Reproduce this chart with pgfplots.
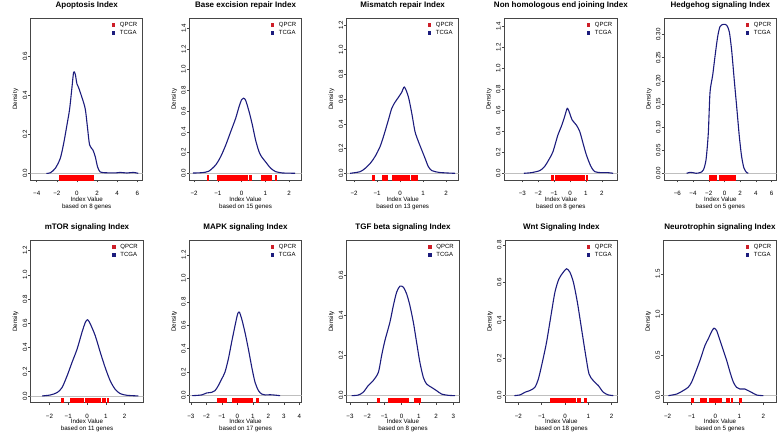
\documentclass[border=0pt]{standalone}
\usepackage{pgfplots}
\pgfplotsset{compat=1.18}
\usepackage{fontspec}
\setmainfont{Liberation Sans}
\definecolor{navyc}{RGB}{28,28,125}
\definecolor{rugred}{RGB}{255,0,0}
\definecolor{legred}{RGB}{205,30,40}
\definecolor{boxc}{RGB}{70,70,70}
\pgfplotsset{
  panel/.style={
    scale only axis,
    axis line style={boxc, line width=0.6pt},
    tick style={boxc, line width=0.5pt},
    tick align=outside, major tick length=2.5pt,
    xtick pos=bottom, ytick pos=left,
    tick label style={font=\fontsize{6.2}{7}\selectfont},
    yticklabel style={rotate=90, anchor=south, inner sep=0.8pt},
    title style={at={(axis description cs:0.5,1)}, anchor=center, yshift=7.3pt, font=\bfseries\fontsize{8}{9}\selectfont},
    xlabel style={at={(axis description cs:0.5,0)}, anchor=center, yshift=-23.5pt, align=center, font=\fontsize{6.2}{7.4}\selectfont},
    ylabel style={font=\fontsize{6.2}{7}\selectfont},
    ylabel={Density},
    legend style={at={(axis description cs:1,1)}, anchor=north east, xshift=-4.5pt, yshift=-3pt, draw=none, fill=none, inner sep=0pt, row sep=0.3pt, font=\fontsize{6}{6.5}\selectfont, nodes={inner sep=0.8pt}},
    legend cell align=left,
    clip=true,
  },
  curve/.style={navyc, line width=1.1pt, smooth, tension=0.45, forget plot},
  rug/.style={only marks, mark=square*, mark size=2.2pt, rugred, mark options={xscale=0.38, yshift=-4.4pt, draw=none, fill=rugred}, forget plot},
  zeroline/.style={black!25, line width=0.7pt, forget plot},
  toprow/.style={height=161.7pt, xticklabel style={yshift=-4.9pt}},
  botrow/.style={height=161.5pt, xticklabel style={yshift=-6.3pt}},
}
\newcommand{\mylegend}{%
\addlegendimage{legend image code/.code={\fill[legred, draw=none] (0pt,-1.9pt) rectangle (3.8pt,1.9pt);\path[draw=none, fill=none] (0pt,0pt) -- (7.5pt,0pt);}}
\addlegendentry{QPCR}
\addlegendimage{legend image code/.code={\fill[navyc, draw=none] (0pt,-1.9pt) rectangle (3.8pt,1.9pt);\path[draw=none, fill=none] (0pt,0pt) -- (7.5pt,0pt);}}
\addlegendentry{TCGA}}
\begin{document}
\begin{tikzpicture}
\useasboundingbox (0pt,0pt) rectangle (778pt,433pt);
% ---------- P1 Apoptosis
\begin{axis}[panel, toprow, at={(30.7pt,253pt)}, anchor=south west, width=112pt,
  xmin=-4.6, xmax=6.54, ymin=-0.034, ymax=0.797,
  xtick={-4,-2,0,2,4,6}, xticklabels={−4,−2,0,2,4,6},
  ytick={0,0.2,0.4,0.6}, yticklabels={0.0,0.2,0.4,0.6},
  title={Apoptosis Index}, xlabel={Index Value\\based on 8 genes}]
\addplot[zeroline] coordinates {(-10,0) (10,0)};
\addplot[curve] coordinates {(-3.05,0) (-2.65,0.003) (-2.15,0.026) (-1.66,0.077) (-1.32,0.154) (-0.99,0.25) (-0.73,0.33) (-0.5,0.44) (-0.33,0.52) (-0.17,0.51) (0,0.46) (0.17,0.44) (0.5,0.39) (0.83,0.33) (1.06,0.23) (1.26,0.146) (1.59,0.12) (1.82,0.086) (2.05,0.034) (2.32,0.007) (2.98,0.003) (3.97,0.003) (4.3,0.005) (4.97,0.002) (5.63,0.005) (6.1,0)};
\addplot[rug] coordinates {(-1.65,0) (-1.55,0) (-1.45,0) (-1.38,0) (-1.3,0) (-1.2,0) (-1.1,0) (-1.0,0) (-0.9,0) (-0.8,0) (-0.72,0) (-0.55,0) (-0.45,0) (-0.38,0) (-0.3,0) (-0.2,0) (-0.1,0) (0.0,0) (0.1,0) (0.2,0) (0.3,0) (0.4,0) (0.5,0) (0.6,0) (0.68,0) (0.78,0) (0.85,0) (1.05,0) (1.3,0) (1.4,0) (1.55,0)};
\mylegend
\end{axis}
% ---------- P2 Base excision
\begin{axis}[panel, toprow, at={(189.3pt,253pt)}, anchor=south west, width=112.4pt,
  xmin=-2.2, xmax=2.53, ymin=-0.065, ymax=1.496,
  xtick={-2,-1,0,1,2}, xticklabels={−2,−1,0,1,2},
  ytick={0,0.2,0.4,0.6,0.8,1.0,1.2,1.4}, yticklabels={0.0,0.2,0.4,0.6,0.8,1.0,1.2,1.4},
  title={Base excision repair Index}, xlabel={Index Value\\based on 15 genes}]
\addplot[zeroline] coordinates {(-10,0) (10,0)};
\addplot[curve] coordinates {(-2.05,0.002) (-1.66,0.006) (-1.38,0.02) (-1.09,0.08) (-0.88,0.16) (-0.67,0.27) (-0.46,0.40) (-0.25,0.53) (-0.11,0.64) (0,0.71) (0.08,0.725) (0.17,0.705) (0.31,0.6) (0.45,0.47) (0.59,0.32) (0.73,0.21) (0.84,0.16) (1.01,0.11) (1.22,0.05) (1.43,0.016) (1.71,0.003) (2.0,0.001) (2.25,0)};
\addplot[rug] coordinates {(-1.43,0) (-1.0,0) (-0.95,0) (-0.88,0) (-0.82,0) (-0.75,0) (-0.68,0) (-0.6,0) (-0.52,0) (-0.45,0) (-0.38,0) (-0.3,0) (-0.2,0) (-0.1,0) (0.0,0) (0.05,0) (0.1,0) (0.2,0) (0.35,0) (0.84,0) (0.92,0) (1.0,0) (1.1,0) (1.2,0) (1.43,0)};
\mylegend
\end{axis}
% ---------- P3 Mismatch repair
\begin{axis}[panel, toprow, at={(346.7pt,253pt)}, anchor=south west, width=112pt,
  xmin=-2.32, xmax=2.55, ymin=-0.054, ymax=1.254,
  xtick={-2,-1,0,1,2}, xticklabels={−2,−1,0,1,2},
  ytick={0,0.2,0.4,0.6,0.8,1.0,1.2}, yticklabels={0.0,0.2,0.4,0.6,0.8,1.0,1.2},
  title={Mismatch repair Index}, xlabel={Index Value\\based on 13 genes}]
\addplot[zeroline] coordinates {(-10,0) (10,0)};
\addplot[curve] coordinates {(-2.17,0) (-1.74,0.013) (-1.52,0.04) (-1.3,0.08) (-1.09,0.135) (-0.87,0.216) (-0.7,0.31) (-0.51,0.43) (-0.36,0.526) (-0.22,0.575) (-0.07,0.615) (0.07,0.655) (0.19,0.698) (0.36,0.62) (0.51,0.485) (0.65,0.337) (0.8,0.256) (0.94,0.19) (1.09,0.12) (1.23,0.054) (1.38,0.022) (1.67,0.008) (2.03,0.003) (2.39,0)};
\addplot[rug] coordinates {(-1.16,0) (-0.75,0) (-0.7,0) (-0.65,0) (-0.58,0) (-0.3,0) (-0.22,0) (-0.15,0) (-0.05,0) (0.0,0) (0.05,0) (0.12,0) (0.2,0) (0.3,0) (0.38,0) (0.5,0) (0.6,0) (0.7,0)};
\mylegend
\end{axis}
% ---------- P4 Non homologous end joining
\begin{axis}[panel, toprow, at={(504pt,253pt)}, anchor=south west, width=113.7pt,
  xmin=-4.15, xmax=3.0, ymin=-0.064, ymax=1.479,
  xtick={-3,-2,-1,0,1,2}, xticklabels={−3,−2,−1,0,1,2},
  ytick={0,0.2,0.4,0.6,0.8,1.0,1.2,1.4}, yticklabels={0.0,0.2,0.4,0.6,0.8,1.0,1.2,1.4},
  title={Non homologous end joining Index}, xlabel={Index Value\\based on 8 genes}]
\addplot[zeroline] coordinates {(-10,0) (10,0)};
\addplot[curve] coordinates {(-2.9,0) (-2.44,0.006) (-1.91,0.025) (-1.6,0.064) (-1.28,0.143) (-1.07,0.207) (-0.76,0.366) (-0.55,0.445) (-0.34,0.54) (-0.17,0.62) (-0.02,0.573) (0.13,0.51) (0.4,0.46) (0.61,0.4) (0.82,0.286) (1.03,0.175) (1.3,0.07) (1.55,0.016) (1.97,0.006) (2.4,0.006) (2.71,0)};
\addplot[rug] coordinates {(-1.1,0) (-0.85,0) (-0.78,0) (-0.7,0) (-0.62,0) (-0.55,0) (-0.48,0) (-0.4,0) (-0.32,0) (-0.25,0) (-0.18,0) (-0.1,0) (-0.02,0) (0.05,0) (0.12,0) (0.2,0) (0.28,0) (0.35,0) (0.5,0) (0.58,0) (0.75,0) (0.85,0) (1.05,0)};
\mylegend
\end{axis}
% ---------- P5 Hedgehog
\begin{axis}[panel, toprow, at={(664pt,253pt)}, anchor=south west, width=112.7pt,
  xmin=-7.69, xmax=6.64, ymin=-0.0145, ymax=0.335,
  xtick={-6,-4,-2,0,2,4,6}, xticklabels={−6,−4,−2,0,2,4,6},
  ytick={0,0.05,0.1,0.15,0.2,0.25,0.3}, yticklabels={0.00,0.05,0.10,0.15,0.20,0.25,0.30},
  title={Hedgehog signaling Index}, xlabel={Index Value\\based on 5 genes}]
\addplot[zeroline] coordinates {(-10,0) (10,0)};
\addplot[curve] coordinates {(-4.81,0) (-4.39,0.002) (-4.05,0.0015) (-3.62,0.0) (-3.1,0.0015) (-2.69,0.007) (-2.35,0.029) (-2.06,0.086) (-1.84,0.175) (-1.5,0.212) (-1.21,0.252) (-0.87,0.295) (-0.57,0.317) (-0.15,0.322) (0.28,0.32) (0.61,0.306) (0.91,0.266) (1.25,0.2) (1.55,0.144) (1.89,0.079) (2.18,0.036) (2.48,0.011) (2.82,0.0015) (3.03,0)};
\addplot[rug] coordinates {(-1.9,0) (-1.75,0) (-1.5,0) (-1.35,0) (-1.2,0) (-0.6,0) (-0.45,0) (-0.3,0) (-0.15,0) (0.0,0) (0.15,0) (0.3,0) (0.5,0) (0.7,0) (0.9,0) (1.1,0) (1.2,0)};
\mylegend
\end{axis}
% ---------- P6 mTOR
\begin{axis}[panel, botrow, at={(30.7pt,31pt)}, anchor=south west, width=112.6pt,
  xmin=-3.0, xmax=3.0, ymin=-0.05, ymax=1.283,
  xtick={-2,-1,0,1,2}, xticklabels={−2,−1,0,1,2},
  ytick={0,0.2,0.4,0.6,0.8,1.0,1.2}, yticklabels={0.0,0.2,0.4,0.6,0.8,1.0,1.2},
  title={mTOR signaling Index}, xlabel={Index Value\\based on 11 genes}]
\addplot[zeroline] coordinates {(-10,0) (10,0)};
\addplot[curve] coordinates {(-2.39,0) (-1.95,0.008) (-1.59,0.028) (-1.33,0.069) (-1.06,0.166) (-0.8,0.276) (-0.53,0.386) (-0.27,0.524) (-0.09,0.607) (0.035,0.629) (0.18,0.593) (0.44,0.497) (0.71,0.359) (0.97,0.234) (1.24,0.124) (1.5,0.055) (1.77,0.019) (2.12,0.0055) (2.74,0)};
\addplot[rug] coordinates {(-1.33,0) (-0.85,0) (-0.78,0) (-0.7,0) (-0.62,0) (-0.55,0) (-0.48,0) (-0.4,0) (-0.32,0) (-0.25,0) (-0.05,0) (0.02,0) (0.1,0) (0.2,0) (0.28,0) (0.35,0) (0.42,0) (0.5,0) (0.58,0) (0.65,0) (0.85,0) (0.92,0) (1.1,0)};
\mylegend
\end{axis}
% ---------- P7 MAPK
\begin{axis}[panel, botrow, at={(189.3pt,31pt)}, anchor=south west, width=112.4pt,
  xmin=-3.1, xmax=4.15, ymin=-0.054, ymax=1.322,
  xtick={-3,-2,-1,0,1,2,3,4}, xticklabels={−3,−2,−1,0,1,2,3,4},
  ytick={0,0.2,0.4,0.6,0.8,1.0,1.2}, yticklabels={0.0,0.2,0.4,0.6,0.8,1.0,1.2},
  title={MAPK signaling Index}, xlabel={Index Value\\based on 17 genes}]
\addplot[zeroline] coordinates {(-10,0) (10,0)};
\addplot[curve] coordinates {(-2.91,0) (-2.31,0.006) (-1.98,0.023) (-1.66,0.028) (-1.44,0.043) (-1.23,0.085) (-1.01,0.142) (-0.8,0.2) (-0.58,0.313) (-0.37,0.455) (-0.15,0.597) (0.02,0.697) (0.13,0.711) (0.28,0.654) (0.49,0.54) (0.71,0.398) (0.93,0.242) (1.14,0.114) (1.36,0.043) (1.57,0.014) (1.79,0.006) (2.11,0.008) (2.33,0.006) (2.76,0)};
\addplot[rug] coordinates {(-1.25,0) (-1.15,0) (-1.0,0) (-0.9,0) (-0.8,0) (-0.3,0) (-0.2,0) (-0.05,0) (0.1,0) (0.2,0) (0.3,0) (0.45,0) (0.55,0) (0.65,0) (0.75,0) (0.88,0) (1.28,0)};
\mylegend
\end{axis}
% ---------- P8 TGF beta
\begin{axis}[panel, botrow, at={(346.7pt,31pt)}, anchor=south west, width=112.6pt,
  xmin=-3.19, xmax=3.35, ymin=-0.0315, ymax=0.771,
  xtick={-3,-2,-1,0,1,2,3}, xticklabels={−3,−2,−1,0,1,2,3},
  ytick={0,0.2,0.4,0.6}, yticklabels={0.0,0.2,0.4,0.6},
  title={TGF beta signaling Index}, xlabel={Index Value\\based on 8 genes}]
\addplot[zeroline] coordinates {(-10,0) (10,0)};
\addplot[curve] coordinates {(-2.9,0) (-2.52,0.003) (-2.23,0.017) (-1.94,0.05) (-1.65,0.075) (-1.35,0.116) (-1.16,0.2) (-0.97,0.274) (-0.68,0.365) (-0.48,0.448) (-0.29,0.514) (-0.1,0.544) (0.1,0.539) (0.29,0.506) (0.48,0.448) (0.68,0.365) (0.87,0.265) (1.06,0.166) (1.26,0.091) (1.45,0.058) (1.74,0.041) (2.03,0.025) (2.32,0.008) (2.71,0.0017) (3.1,0)};
\addplot[rug] coordinates {(-1.35,0) (-0.75,0) (-0.68,0) (-0.6,0) (-0.52,0) (-0.45,0) (-0.38,0) (-0.3,0) (-0.2,0) (-0.1,0) (0.05,0) (0.12,0) (0.2,0) (0.35,0) (0.78,0) (0.95,0) (1.05,0)};
\mylegend
\end{axis}
% ---------- P9 Wnt
\begin{axis}[panel, botrow, at={(505pt,31pt)}, anchor=south west, width=112.7pt,
  xmin=-2.57, xmax=2.26, ymin=-0.034, ymax=0.823,
  xtick={-2,-1,0,1,2}, xticklabels={−2,−1,0,1,2},
  ytick={0,0.2,0.4,0.6,0.8}, yticklabels={0.0,0.2,0.4,0.6,0.8},
  title={Wnt Signaling Index}, xlabel={Index Value\\based on 18 genes}]
\addplot[zeroline] coordinates {(-10,0) (10,0)};
\addplot[curve] coordinates {(-2.17,0) (-1.93,0.0035) (-1.71,0.018) (-1.5,0.027) (-1.29,0.044) (-1.14,0.088) (-0.97,0.177) (-0.79,0.283) (-0.6,0.425) (-0.43,0.549) (-0.26,0.619) (-0.07,0.655) (0.07,0.673) (0.21,0.655) (0.36,0.602) (0.53,0.496) (0.71,0.354) (0.89,0.212) (1.03,0.115) (1.21,0.08) (1.43,0.053) (1.64,0.018) (1.86,0.0035) (2.07,0)};
\addplot[rug] coordinates {(-0.6,0) (-0.55,0) (-0.5,0) (-0.45,0) (-0.4,0) (-0.35,0) (-0.3,0) (-0.22,0) (-0.15,0) (-0.08,0) (0.0,0) (0.05,0) (0.12,0) (0.2,0) (0.28,0) (0.35,0) (0.42,0) (0.55,0) (0.62,0) (0.86,0)};
\mylegend
\end{axis}
% ---------- P10 Neurotrophin
\begin{axis}[panel, botrow, at={(663.3pt,31pt)}, anchor=south west, width=113.4pt,
  xmin=-2.18, xmax=2.56, ymin=-0.078, ymax=1.91,
  xtick={-2,-1,0,1,2}, xticklabels={−2,−1,0,1,2},
  ytick={0,0.5,1.0,1.5}, yticklabels={0.0,0.5,1.0,1.5},
  title={Neurotrophin signaling Index}, xlabel={Index Value\\based on 5 genes}]
\addplot[zeroline] coordinates {(-10,0) (10,0)};
\addplot[curve] coordinates {(-1.97,0) (-1.62,0.02) (-1.35,0.062) (-1.14,0.103) (-1.0,0.165) (-0.86,0.267) (-0.65,0.432) (-0.44,0.617) (-0.3,0.7) (-0.16,0.79) (-0.06,0.83) (0.05,0.8) (0.19,0.68) (0.33,0.556) (0.47,0.432) (0.61,0.288) (0.75,0.165) (0.88,0.103) (1.02,0.082) (1.23,0.082) (1.37,0.062) (1.51,0.041) (1.72,0.008) (2.0,0)};
\addplot[rug] coordinates {(-0.98,0) (-0.62,0) (-0.55,0) (-0.48,0) (-0.42,0) (-0.22,0) (-0.15,0) (-0.08,0) (0.0,0) (0.05,0) (0.12,0) (0.2,0) (0.5,0) (0.55,0) (0.68,0) (1.03,0)};
\mylegend
\end{axis}
\end{tikzpicture}
\end{document}
